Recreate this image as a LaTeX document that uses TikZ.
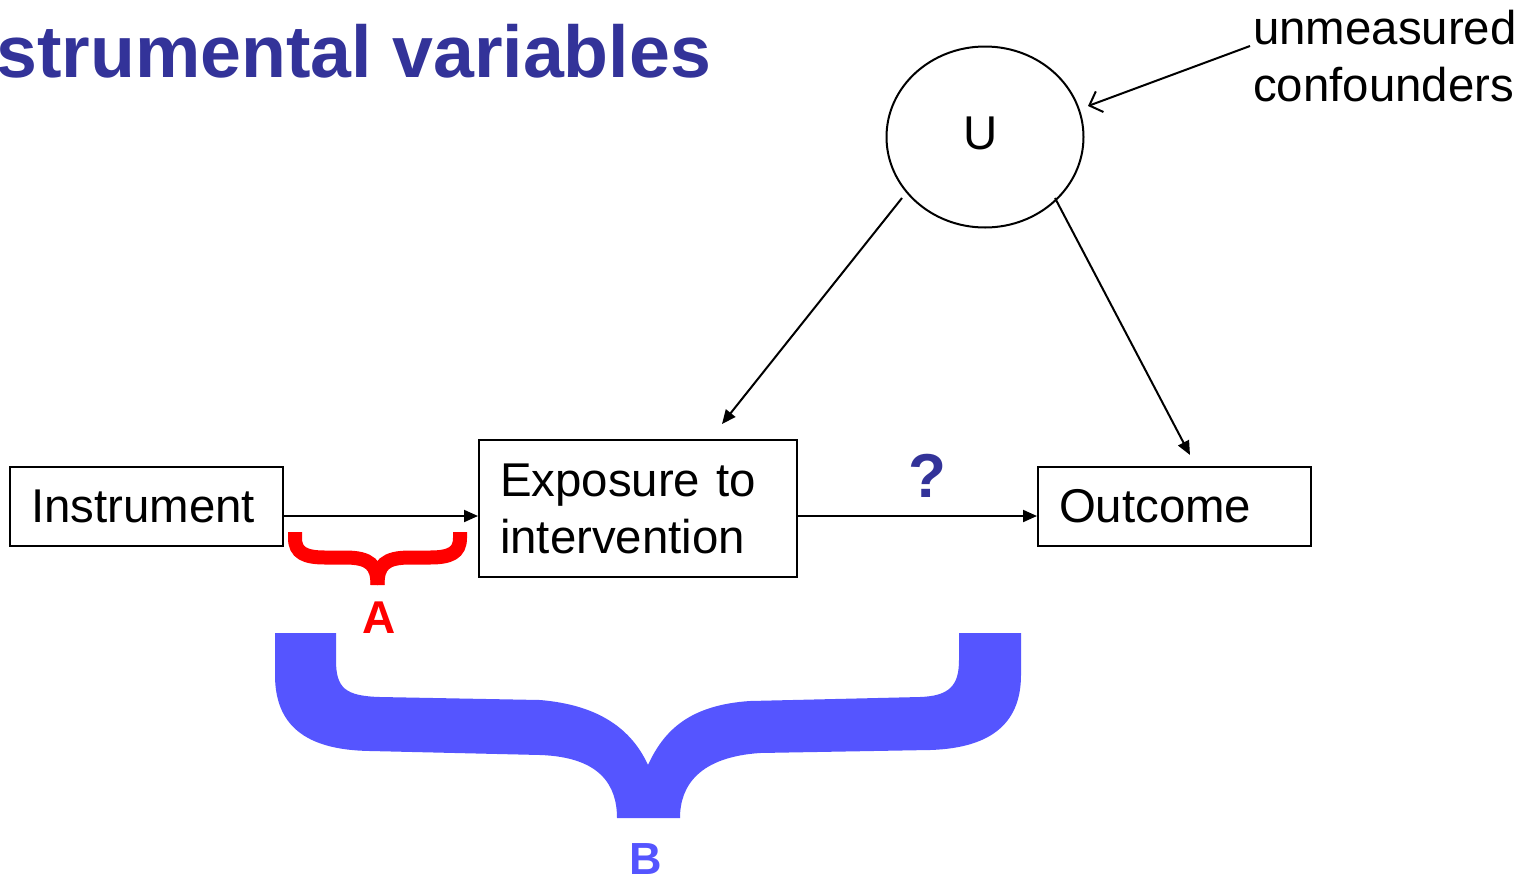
\documentclass[tikz,border=0pt]{standalone}
\usepackage{fontspec}
\setmainfont{Liberation Sans}
\usetikzlibrary{arrows.meta,shapes.geometric}
\definecolor{titleblue}{HTML}{333399}
\definecolor{braceblue}{HTML}{5555FF}
\definecolor{bracered}{HTML}{FF0000}
\begin{document}
\begin{tikzpicture}[x=1pt,y=-1pt,
  txt/.style={font=\fontsize{47.4}{57}\selectfont},
  box/.style={draw,line width=2pt,inner xsep=21pt,inner ysep=0pt,align=left,txt},
  arr/.style={line width=2pt,-{Triangle[length=14pt,width=12pt]}},
  barb/.style={line width=2pt,-{Straight Barb[length=11pt,width=22pt,line width=2pt]}}]
\useasboundingbox (0,0) rectangle (1532,876);
\fill[white] (0,0) rectangle (1532,876);
% title
\node[anchor=base west,inner sep=0,text=titleblue,font=\fontsize{73.5}{88}\selectfont\bfseries] (title) at (-4,77) {strumental variables};
% nodes
\node[box,text width=231pt,minimum height=79pt] (ins) at (146.5,506.5) {Instrument};
\node[box,text width=276pt,minimum height=137pt] (exp) at (638,508.5) {Exposure to\\intervention};
\node[box,text width=231pt,minimum height=79pt] (out) at (1174.5,506.5) {Outcome};
\node[draw,ellipse,line width=2pt,minimum width=197pt,minimum height=181pt,inner sep=0] (U) at (985,137) {};
\node[anchor=base,inner sep=0,txt] (Ulab) at (981,149) {U};
\node[anchor=base west,inner sep=0,align=left,txt] (conf) at (1253,101) {unmeasured\\confounders};
\node[anchor=base,inner sep=0,text=titleblue,font=\fontsize{62}{70}\selectfont\bfseries] (q) at (927,497) {?};
\node[anchor=base,inner sep=0,text=bracered,font=\fontsize{46}{55}\selectfont\bfseries] (A) at (379,633) {A};
\node[anchor=base,inner sep=0,text=braceblue,font=\fontsize{45}{54}\selectfont\bfseries] (B) at (646,874) {B};
% connector ends
\coordinate (u1) at (902,198);
\coordinate (e1) at (722,424);
\coordinate (u2) at (1055,198);
\coordinate (o1) at (1190,455);
\coordinate (c1) at (1250,46);
\coordinate (c2) at (1088,106);
% connectors
\draw[arr] (ins.east |- 0,516) -- (exp.west |- 0,516);
\draw[arr] (exp.east |- 0,516) -- (out.west |- 0,516);
\draw[arr] (u1) -- (e1);
\draw[arr] (u2) -- (o1);
\draw[barb] (c1) -- (c2);
% red brace A
\draw[bracered,line width=14pt,line cap=butt]
  (295,532) -- (295,538) .. controls (295,553) and (305,557.5) .. (325,557.5) -- (345,557.5) .. controls (370,557.5) and (377.5,565) .. (377.5,585);
\draw[bracered,line width=14pt,line cap=butt]
  (460,532) -- (460,538) .. controls (460,553) and (450,557.5) .. (430,557.5) -- (410,557.5) .. controls (385,557.5) and (377.5,565) .. (377.5,585);
% blue brace B
\fill[braceblue] (275,633) -- (336,633) -- (336,660) .. controls (336,688) and (345,696) .. (380,697) -- (540,700) .. controls (600,705) and (632,730) .. (648,765) .. controls (664,730) and (690,705) .. (750,701) -- (920,697) .. controls (950,696) and (959,685) .. (959,660) -- (959,633) -- (1021,633) -- (1021,675) .. controls (1021,720) and (995,748) .. (930,750) -- (760,753) .. controls (700,757) and (680,785) .. (680,818) -- (617,818) .. controls (617,785) and (600,757) .. (540,755) -- (370,751) .. controls (305,750) and (275,725) .. (275,675) -- cycle;
\end{tikzpicture}
\end{document}
